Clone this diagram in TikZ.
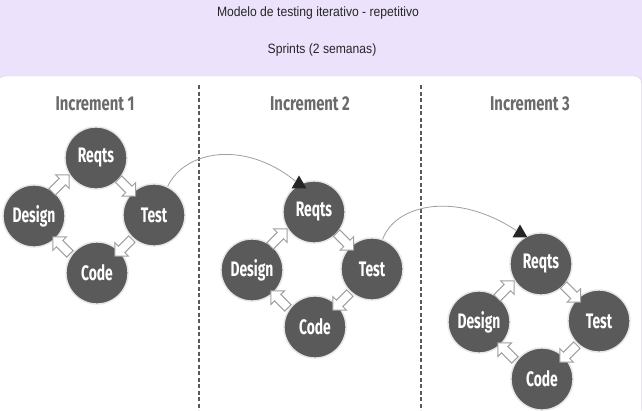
\documentclass[tikz,border=0pt]{standalone}
\usepackage{fontspec}
\setmainfont{Liberation Sans}
\newfontfamily\headfont[FakeStretch=0.9]{Liberation Sans}
\newfontfamily\incfont[FakeStretch=0.74]{Fira Sans}
\newfontfamily\stagefont[FakeStretch=0.66]{Fira Sans}
\usetikzlibrary{shapes.geometric, shapes.arrows, arrows.meta, positioning, calc}
\definecolor{bandlilac}{HTML}{ECE2FC}
\definecolor{panelline}{HTML}{D8CFE6}
\definecolor{stagegray}{HTML}{5A5A5A}
\definecolor{headgray}{HTML}{6A6A6A}
\tikzset{
    stage/.style={circle, draw=white!80!gray, line width=1.4pt, fill=stagegray, text=white, minimum size=62pt, inner sep=0pt, font=\stagefont\bfseries\fontsize{21}{21}\selectfont},
    inchead/.style={text=headgray, font=\incfont\bfseries\fontsize{20}{20}\selectfont},
    band/.style={font=\headfont\fontsize{13.5}{15}\selectfont, text=black!85},
    flow/.style={single arrow, draw=gray!75, fill=white, line width=1pt, minimum height=24pt, inner sep=4pt, single arrow head extend=5pt},
    hop/.style={draw=gray!75, line width=0.8pt},
    entry/.style={regular polygon, regular polygon sides=3, fill=black!85, minimum size=17pt, inner sep=0pt},
    lanesep/.style={draw=black!65, line width=1.2pt, dash pattern=on 4pt off 2.5pt}
}

\begin{document}
\begin{tikzpicture}[x=1pt, y=-1pt]
    \useasboundingbox (0,0) rectangle (642,410);
    \fill[bandlilac] (0,0) rectangle (642,410);
    \draw[panelline, fill=white, rounded corners=7pt] (-2,76) rectangle (641.5,420);

    \node[band] (title) at (318,13) {Modelo de testing iterativo - repetitivo};
    \node[band] (sprints) at (322,50) {Sprints (2 semanas)};

    \draw[lanesep] (199,85) -- (199,410);
    \draw[lanesep] (421,85) -- (421,410);

    % one cycle per increment
    \foreach \i/\x/\y/\hx in {1/96/158/95, 2/314/212/310, 3/541/264/530} {
      \node[inchead] (inc\i) at (\hx,104) {Increment \i};
      \node[stage] (req\i) at (\x,\y) {Reqts};
      \node[stage] (test\i) at ($(req\i)+(58,57)$) {Test};
      \node[stage] (code\i) at ($(req\i)+(1,115)$) {Code};
      \node[stage] (design\i) at ($(req\i)+(-62,58)$) {Design};
      \node[flow, rotate=45] (dr\i) at ($(req\i)+(-37,27)$) {};
      \node[flow, rotate=-45] (rt\i) at ($(req\i)+(29.5,28)$) {};
      \node[flow, rotate=-135] (tc\i) at ($(req\i)+(29,88)$) {};
      \node[flow, rotate=135] (cd\i) at ($(req\i)+(-33,89)$) {};
    }

    \node[entry] (in2) at (299,184) {};
    \node[entry] (in3) at (520,233) {};

    \draw[hop] (test1) .. controls (185,150) and (245,140) .. (in2);
    \draw[hop] (test2) .. controls (395,205) and (455,190) .. (in3);
\end{tikzpicture}
\end{document}
